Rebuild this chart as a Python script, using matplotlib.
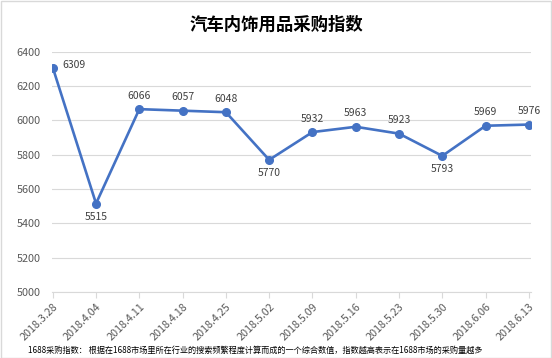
import matplotlib.pyplot as plt

plt.rcParams['font.family'] = ['Noto Sans CJK SC', 'DejaVu Sans']

dates = ["2018.3.28", "2018.4.04", "2018.4.11", "2018.4.18", "2018.4.25", "2018.5.02",
         "2018.5.09", "2018.5.16", "2018.5.23", "2018.5.30", "2018.6.06", "2018.6.13"]
values = [6309, 5515, 6066, 6057, 6048, 5770, 5932, 5963, 5923, 5793, 5969, 5976]
label_pos = ["right", "below", "above", "above", "above", "below",
             "above", "above", "above", "below", "above", "above"]

blue = "#4472C4"
fig = plt.figure(figsize=(5.52, 3.58), dpi=100)
ax = fig.add_axes([0.094, 0.185, 0.868, 0.67])

x = list(range(len(dates)))
ax.plot(x, values, color=blue, lw=1.9, marker="o", ms=5.5, zorder=3)

for xi, v, pos in zip(x, values, label_pos):
    if pos == "right":
        ax.annotate(str(v), (xi, v), xytext=(7, 2), textcoords="offset points",
                    ha="left", va="center", fontsize=7.5, color="#404040")
    elif pos == "below":
        ax.annotate(str(v), (xi, v), xytext=(0, -6), textcoords="offset points",
                    ha="center", va="top", fontsize=7.5, color="#404040")
    else:
        ax.annotate(str(v), (xi, v), xytext=(0, 6), textcoords="offset points",
                    ha="center", va="bottom", fontsize=7.5, color="#404040")

ax.set_ylim(5000, 6400)
ax.set_yticks(range(5000, 6401, 200))
ax.set_xlim(-0.02, len(dates) - 0.95)
ax.set_xticks(x)
ax.set_xticklabels(dates, rotation=45, ha="right", rotation_mode="anchor", fontsize=7.8, color="#595959")
ax.tick_params(axis="y", length=0, labelsize=7.8, labelcolor="#595959", pad=8)
ax.tick_params(axis="x", length=4, color="#D9D9D9", pad=3)
ax.grid(axis="y", color="#D9D9D9", lw=0.8)
ax.set_axisbelow(True)
for s in ["top", "right", "left"]:
    ax.spines[s].set_visible(False)
ax.spines["bottom"].set_color("#D9D9D9")

fig.text(0.5, 0.93, "汽车内饰用品采购指数", ha="center", va="center", fontsize=12.5, fontweight="bold")
fig.text(0.05, 0.022, "1688采购指数： 根据在1688市场里所在行业的搜索频繁程度计算而成的一个综合数值，指数越高表示在1688市场的采购量越多",
         ha="left", va="center", fontsize=5.9, fontweight="medium")

fig.patches.append(plt.Rectangle((0.001, 0.001), 0.997, 0.997, transform=fig.transFigure,
                                 fill=False, ec="#D9D9D9", lw=1))
fig.savefig("out.png", dpi=100)
